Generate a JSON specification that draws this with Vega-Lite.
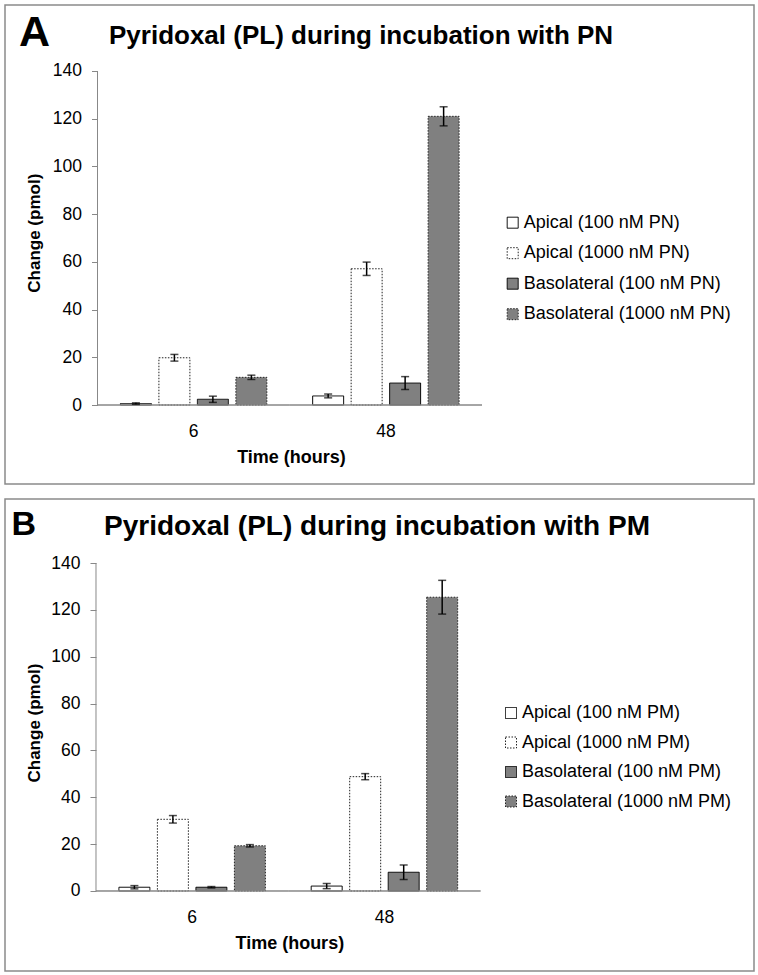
{
  "$schema": "https://vega.github.io/schema/vega-lite/v6.json",
  "padding": {"left": 4, "top": 4, "right": 2, "bottom": 2},
  "spacing": 13,
  "resolve": {
    "scale": {"fill": "independent", "stroke": "independent", "strokeDash": "independent", "xOffset": "independent", "x": "independent", "y": "independent"},
    "legend": {"fill": "independent", "stroke": "independent", "strokeDash": "independent"}
  },
  "config": {
    "font": "Liberation Sans",
    "view": {"stroke": "#8a8a8a", "strokeWidth": 1.5},
    "axis": {"labelColor": "#000", "titleColor": "#000", "grid": false},
    "legend": {"labelColor": "#000", "labelLimit": 400}
  },
  "vconcat": [
    {
      "title": {"text": "A", "anchor": "start", "frame": "group", "dx": 14, "offset": -84.75, "baseline": "alphabetic", "font": "Liberation Sans", "fontSize": 43, "fontWeight": "bold", "color": "#000"},
      "resolve": {
        "scale": {"fill": "independent", "stroke": "independent", "strokeDash": "independent", "xOffset": "independent"},
        "legend": {"fill": "independent", "stroke": "independent", "strokeDash": "independent"}
      },
      "vconcat": [
        {
          "width": 749,
          "height": 479,
          "title": {"text": "Pyridoxal (PL) during incubation with PN", "anchor": "start", "frame": "group", "dx": 104, "offset": -65.3, "baseline": "alphabetic", "font": "Liberation Sans", "fontSize": 26, "fontWeight": "bold", "color": "#000"},
          "data": {"values": [
            {"time": "6", "series": "Apical (100 nM PN)", "value": 0.6, "lo": 0.3, "hi": 0.9},
            {"time": "6", "series": "Apical (1000 nM PN)", "value": 19.8, "lo": 18.4, "hi": 21.2},
            {"time": "6", "series": "Basolateral (100 nM PN)", "value": 2.4, "lo": 1.1, "hi": 3.7},
            {"time": "6", "series": "Basolateral (1000 nM PN)", "value": 11.6, "lo": 10.7, "hi": 12.5},
            {"time": "48", "series": "Apical (100 nM PN)", "value": 3.8, "lo": 3.0, "hi": 4.6},
            {"time": "48", "series": "Apical (1000 nM PN)", "value": 57.1, "lo": 54.3, "hi": 59.9},
            {"time": "48", "series": "Basolateral (100 nM PN)", "value": 9.2, "lo": 6.5, "hi": 11.9},
            {"time": "48", "series": "Basolateral (1000 nM PN)", "value": 121.0, "lo": 117.0, "hi": 125.0}
          ]},
          "layer": [
            {
              "mark": {"type": "bar", "strokeWidth": 1},
              "encoding": {
                "x": {"field": "time", "type": "nominal", "sort": ["6", "48"],
                  "scale": {"domain": ["6", "48"], "paddingInner": 0, "paddingOuter": 0.948, "align": 0.2538},
                  "axis": {"title": "Time (hours)", "offset": -79, "labelAngle": 0, "labelFontSize": 17.5, "labelPadding": 17, "ticks": false, "tickSize": 0, "domain": false,
                    "titleFontSize": 18, "titleFontWeight": "bold", "titleX": 286, "titleY": 57, "titleBaseline": "alphabetic", "titleAlign": "center"}},
                "xOffset": {"field": "series", "type": "nominal", "sort": ["Apical (100 nM PN)", "Apical (1000 nM PN)", "Basolateral (100 nM PN)", "Basolateral (1000 nM PN)"],
                  "scale": {"domain": ["Apical (100 nM PN)", "Apical (1000 nM PN)", "Basolateral (100 nM PN)", "Basolateral (1000 nM PN)"], "paddingInner": 0.195, "paddingOuter": 0.595}},
                "y": {"field": "value", "type": "quantitative",
                  "scale": {"domain": [-33.11, 167.66], "zero": false, "nice": false},
                  "axis": {"title": "Change (pmol)", "values": [0, 20, 40, 60, 80, 100, 120, 140], "offset": -92.5, "domain": false, "tickColor": "#888", "tickSize": 6, "labelFontSize": 17.5, "labelPadding": 10,
                    "titleFontSize": 17, "titleFontWeight": "bold", "titleAngle": 270, "titleX": -58.5, "titleY": 227.7, "titleBaseline": "alphabetic", "titleAlign": "center"}},
                "y2": {"datum": 0},
                "fill": {"field": "series", "type": "nominal",
                  "scale": {"domain": ["Apical (100 nM PN)", "Apical (1000 nM PN)", "Basolateral (100 nM PN)", "Basolateral (1000 nM PN)"], "range": ["#ffffff", "#ffffff", "#808080", "#808080"]},
                  "legend": {"title": null, "orient": "none", "legendX": 498.7, "legendY": 208.7, "symbolType": "square", "symbolSize": 121, "symbolStrokeWidth": 1, "labelFontSize": 18, "labelOffset": 2, "rowPadding": 12.5, "padding": 0}},
                "stroke": {"field": "series", "type": "nominal",
                  "scale": {"domain": ["Apical (100 nM PN)", "Apical (1000 nM PN)", "Basolateral (100 nM PN)", "Basolateral (1000 nM PN)"], "range": ["#000000", "#222222", "#000000", "#222222"]},
                  "legend": {"title": null, "orient": "none", "legendX": 498.7, "legendY": 208.7, "symbolType": "square", "symbolSize": 121, "symbolStrokeWidth": 1, "labelFontSize": 18, "labelOffset": 2, "rowPadding": 12.5, "padding": 0}},
                "strokeDash": {"field": "series", "type": "nominal",
                  "scale": {"domain": ["Apical (100 nM PN)", "Apical (1000 nM PN)", "Basolateral (100 nM PN)", "Basolateral (1000 nM PN)"], "range": [[1, 0], [1.5, 1.5], [1, 0], [1.5, 1.5]]},
                  "legend": {"title": null, "orient": "none", "legendX": 498.7, "legendY": 208.7, "symbolType": "square", "symbolSize": 121, "symbolStrokeWidth": 1, "labelFontSize": 18, "labelOffset": 2, "rowPadding": 12.5, "padding": 0}}
              }
            },
            {
              "data": {"values": [{"time": "6"}, {"time": "48"}]},
              "mark": {"type": "bar", "fill": "transparent", "stroke": "#888", "strokeWidth": 1},
              "encoding": {
                "x": {"field": "time", "type": "nominal"},
                "y": {"datum": 0},
                "y2": {"datum": 0}
              }
            },
            {
              "data": {"values": [{"time": "6"}]},
              "mark": {"type": "rule", "color": "#888", "strokeWidth": 1},
              "encoding": {
                "x": {"field": "time", "type": "nominal", "bandPosition": 0},
                "y": {"datum": 0},
                "y2": {"datum": 140}
              }
            },
            {
              "mark": {"type": "rule", "color": "#000", "strokeWidth": 1.5},
              "encoding": {
                "x": {"field": "time", "type": "nominal"},
                "xOffset": {"field": "series", "type": "nominal"},
                "y": {"field": "lo", "type": "quantitative"},
                "y2": {"field": "hi"}
              }
            },
            {
              "mark": {"type": "tick", "color": "#000", "size": 8, "thickness": 1.5},
              "encoding": {
                "x": {"field": "time", "type": "nominal"},
                "xOffset": {"field": "series", "type": "nominal"},
                "y": {"field": "lo", "type": "quantitative"}
              }
            },
            {
              "mark": {"type": "tick", "color": "#000", "size": 8, "thickness": 1.5},
              "encoding": {
                "x": {"field": "time", "type": "nominal"},
                "xOffset": {"field": "series", "type": "nominal"},
                "y": {"field": "hi", "type": "quantitative"}
              }
            }
          ]
        }
      ]
    },
    {
      "title": {"text": "B", "anchor": "start", "frame": "group", "dx": 6.5, "offset": -70.75, "baseline": "alphabetic", "font": "Liberation Sans", "fontSize": 34, "fontWeight": "bold", "color": "#000"},
      "resolve": {
        "scale": {"fill": "independent", "stroke": "independent", "strokeDash": "independent", "xOffset": "independent"},
        "legend": {"fill": "independent", "stroke": "independent", "strokeDash": "independent"}
      },
      "vconcat": [
        {
          "width": 749,
          "height": 472,
          "title": {"text": "Pyridoxal (PL) during incubation with PM", "anchor": "start", "frame": "group", "dx": 99, "offset": -64.3, "baseline": "alphabetic", "font": "Liberation Sans", "fontSize": 28, "fontWeight": "bold", "color": "#000"},
          "data": {"values": [
            {"time": "6", "series": "Apical (100 nM PM)", "value": 1.6, "lo": 0.9, "hi": 2.3},
            {"time": "6", "series": "Apical (1000 nM PM)", "value": 30.6, "lo": 29.0, "hi": 32.2},
            {"time": "6", "series": "Basolateral (100 nM PM)", "value": 1.6, "lo": 1.3, "hi": 1.9},
            {"time": "6", "series": "Basolateral (1000 nM PM)", "value": 19.3, "lo": 18.8, "hi": 19.8},
            {"time": "48", "series": "Apical (100 nM PM)", "value": 2.1, "lo": 1.0, "hi": 3.2},
            {"time": "48", "series": "Apical (1000 nM PM)", "value": 48.8, "lo": 47.5, "hi": 50.1},
            {"time": "48", "series": "Basolateral (100 nM PM)", "value": 8.0, "lo": 4.9, "hi": 11.1},
            {"time": "48", "series": "Basolateral (1000 nM PM)", "value": 125.4, "lo": 118.2, "hi": 132.6}
          ]},
          "layer": [
            {
              "mark": {"type": "bar", "strokeWidth": 1},
              "encoding": {
                "x": {"field": "time", "type": "nominal", "sort": ["6", "48"],
                  "scale": {"domain": ["6", "48"], "paddingInner": 0, "paddingOuter": 0.9475, "align": 0.2497},
                  "axis": {"title": "Time (hours)", "offset": -80, "labelAngle": 0, "labelFontSize": 17.5, "labelPadding": 17, "ticks": false, "tickSize": 0, "domain": false,
                    "titleFontSize": 18, "titleFontWeight": "bold", "titleX": 284.3, "titleY": 57, "titleBaseline": "alphabetic", "titleAlign": "center"}},
                "xOffset": {"field": "series", "type": "nominal", "sort": ["Apical (100 nM PM)", "Apical (1000 nM PM)", "Basolateral (100 nM PM)", "Basolateral (1000 nM PM)"],
                  "scale": {"domain": ["Apical (100 nM PM)", "Apical (1000 nM PM)", "Basolateral (100 nM PM)", "Basolateral (1000 nM PM)"], "paddingInner": 0.195, "paddingOuter": 0.595}},
                "y": {"field": "value", "type": "quantitative",
                  "scale": {"domain": [-34.15, 167.32], "zero": false, "nice": false},
                  "axis": {"title": "Change (pmol)", "values": [0, 20, 40, 60, 80, 100, 120, 140], "offset": -91, "domain": false, "tickColor": "#888", "tickSize": 6, "labelFontSize": 17.5, "labelPadding": 10,
                    "titleFontSize": 17, "titleFontWeight": "bold", "titleAngle": 270, "titleX": -57, "titleY": 223.5, "titleBaseline": "alphabetic", "titleAlign": "center"}},
                "y2": {"datum": 0},
                "fill": {"field": "series", "type": "nominal",
                  "scale": {"domain": ["Apical (100 nM PM)", "Apical (1000 nM PM)", "Basolateral (100 nM PM)", "Basolateral (1000 nM PM)"], "range": ["#ffffff", "#ffffff", "#808080", "#808080"]},
                  "legend": {"title": null, "orient": "none", "legendX": 497, "legendY": 205, "symbolType": "square", "symbolSize": 121, "symbolStrokeWidth": 1, "labelFontSize": 18, "labelOffset": 2, "rowPadding": 11.5, "padding": 0}},
                "stroke": {"field": "series", "type": "nominal",
                  "scale": {"domain": ["Apical (100 nM PM)", "Apical (1000 nM PM)", "Basolateral (100 nM PM)", "Basolateral (1000 nM PM)"], "range": ["#000000", "#222222", "#000000", "#222222"]},
                  "legend": {"title": null, "orient": "none", "legendX": 497, "legendY": 205, "symbolType": "square", "symbolSize": 121, "symbolStrokeWidth": 1, "labelFontSize": 18, "labelOffset": 2, "rowPadding": 11.5, "padding": 0}},
                "strokeDash": {"field": "series", "type": "nominal",
                  "scale": {"domain": ["Apical (100 nM PM)", "Apical (1000 nM PM)", "Basolateral (100 nM PM)", "Basolateral (1000 nM PM)"], "range": [[1, 0], [1.5, 1.5], [1, 0], [1.5, 1.5]]},
                  "legend": {"title": null, "orient": "none", "legendX": 497, "legendY": 205, "symbolType": "square", "symbolSize": 121, "symbolStrokeWidth": 1, "labelFontSize": 18, "labelOffset": 2, "rowPadding": 11.5, "padding": 0}}
              }
            },
            {
              "data": {"values": [{"time": "6"}, {"time": "48"}]},
              "mark": {"type": "bar", "fill": "transparent", "stroke": "#888", "strokeWidth": 1},
              "encoding": {
                "x": {"field": "time", "type": "nominal"},
                "y": {"datum": 0},
                "y2": {"datum": 0}
              }
            },
            {
              "data": {"values": [{"time": "6"}]},
              "mark": {"type": "rule", "color": "#888", "strokeWidth": 1},
              "encoding": {
                "x": {"field": "time", "type": "nominal", "bandPosition": 0},
                "y": {"datum": 0},
                "y2": {"datum": 140}
              }
            },
            {
              "mark": {"type": "rule", "color": "#000", "strokeWidth": 1.5},
              "encoding": {
                "x": {"field": "time", "type": "nominal"},
                "xOffset": {"field": "series", "type": "nominal"},
                "y": {"field": "lo", "type": "quantitative"},
                "y2": {"field": "hi"}
              }
            },
            {
              "mark": {"type": "tick", "color": "#000", "size": 8, "thickness": 1.5},
              "encoding": {
                "x": {"field": "time", "type": "nominal"},
                "xOffset": {"field": "series", "type": "nominal"},
                "y": {"field": "lo", "type": "quantitative"}
              }
            },
            {
              "mark": {"type": "tick", "color": "#000", "size": 8, "thickness": 1.5},
              "encoding": {
                "x": {"field": "time", "type": "nominal"},
                "xOffset": {"field": "series", "type": "nominal"},
                "y": {"field": "hi", "type": "quantitative"}
              }
            }
          ]
        }
      ]
    }
  ]
}
